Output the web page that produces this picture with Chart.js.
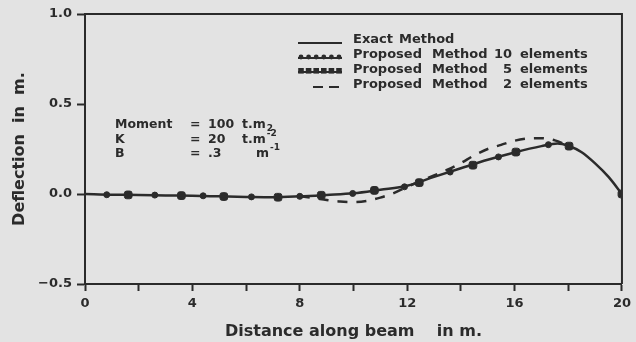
<!DOCTYPE html>
<html>
<head>
<meta charset="utf-8">
<script src="https://cdn.jsdelivr.net/npm/chart.js@4/dist/chart.umd.min.js"></script>
<style>
  html, body { margin: 0; padding: 0; background: #e3e3e3; }
  #wrap { width: 636px; height: 342px; }
</style>
</head>
<body>
<div id="wrap"><canvas id="chart-deflection"></canvas></div>
<script>
/* ── Data ─────────────────────────────────────────────────────────────── */
const exactX = [0, 1, 2, 3, 4, 5, 6, 7, 8, 9, 10, 11, 12, 13, 14, 15, 16, 17, 17.6, 18, 18.5, 19, 19.5, 20];
const exactY = [0, -0.004, -0.005, -0.008, -0.01, -0.013, -0.016, -0.018, -0.013, -0.005, 0.004, 0.024, 0.046,
                0.095, 0.143, 0.19, 0.231, 0.266, 0.281, 0.268, 0.232, 0.17, 0.095, 0];

const tenElemX = [0.81, 2.6, 4.4, 6.2, 8.0, 9.97, 11.9, 13.6, 15.4, 17.26];
const tenElemY = [-0.004, -0.006, -0.01, -0.016, -0.013, 0.003, 0.04, 0.122, 0.206, 0.274];

const fiveElemX = [1.61, 3.59, 5.17, 7.19, 8.8, 10.78, 12.45, 14.45, 16.05, 18.03, 20];
const fiveElemY = [-0.005, -0.009, -0.014, -0.018, -0.007, 0.02, 0.063, 0.16, 0.233, 0.266, 0];

// 2-element solution: only where it leaves the exact curve
const twoElemX = [8, 8.5, 9, 9.5, 10, 10.5, 11, 11.5, 12, 12.5, 13, 13.5, 14, 14.5, 15, 15.5,
                  16, 16.5, 17, 17.5, 18];
const twoElemY = [-0.013, -0.022, -0.033, -0.042, -0.045, -0.038, -0.02, 0.005, 0.04, 0.072,
                  0.103, 0.135, 0.172, 0.215, 0.25, 0.273, 0.296, 0.308, 0.31, 0.298, 0.268];

const legendLabels = [
    ['Exact', 'Method'],
    ['Proposed', 'Method', '10', 'elements'],
    ['Proposed', 'Method', '5', 'elements'],
    ['Proposed', 'Method', '2', 'elements'],
];
const paramNames = ['Moment', 'K', 'B'];
const paramValues = ['100', '20', '.3'];
const paramUnits = ['t.m', 't.m', 'm'];
const paramExps = ['2', '-2', '-1'];

const INK = '#2b2b2b';
const FONT = "'DejaVu Sans', sans-serif";

const toPoints = (xs, ys) => xs.map((x, i) => ({ x, y: ys[i] }));

/* ── Plugins ──────────────────────────────────────────────────────────── */
const paperBg = {
    id: 'paperBg',
    beforeDraw(chart) {
        const { ctx, width, height } = chart;
        ctx.save();
        ctx.fillStyle = '#e3e3e3';
        ctx.fillRect(0, 0, width, height);
        ctx.restore();
    },
};

const frameBox = {
    id: 'frameBox',
    afterDatasetsDraw(chart) {
        const { ctx, chartArea: a } = chart;
        ctx.save();
        ctx.strokeStyle = INK;
        ctx.lineWidth = 2;
        ctx.beginPath();
        ctx.moveTo(a.left, a.top);
        ctx.lineTo(a.right, a.top);
        ctx.lineTo(a.right, a.bottom);
        ctx.stroke();
        ctx.restore();
    },
};

// legend + parameter block, drawn by hand to keep the plotter look
const notes = {
    id: 'notes',
    afterDraw(chart) {
        const { ctx } = chart;
        ctx.save();
        ctx.fillStyle = INK;
        ctx.strokeStyle = INK;
        ctx.font = `bold 13px ${FONT}`;
        ctx.textBaseline = 'middle';

        // legend rows
        const rowsY = [40, 55, 70, 85];
        legendLabels.forEach((parts, i) => {
            const y = rowsY[i];
            ctx.textAlign = 'left';
            if (parts.length === 2) {
                ctx.fillText(parts[0], 353, y);
                ctx.fillText(parts[1], 353 + ctx.measureText(parts[0]).width + 6, y);
            } else {
                ctx.fillText(parts[0], 353, y);
                ctx.fillText(parts[1], 432, y);
                ctx.textAlign = 'right';
                ctx.fillText(parts[2], 512, y);
                ctx.textAlign = 'left';
                ctx.fillText(parts[3], 520, y);
            }
        });

        // legend samples
        ctx.lineWidth = 2;
        ctx.beginPath();
        ctx.moveTo(298, 43); ctx.lineTo(342, 43);
        ctx.moveTo(298, 58); ctx.lineTo(342, 58);
        ctx.moveTo(298, 72); ctx.lineTo(342, 72);
        ctx.stroke();
        for (let k = 0; k < 6; k++) {
            const x = 301 + k * 7.6;
            ctx.beginPath();
            ctx.arc(x, 57, 2.4, 0, Math.PI * 2);
            ctx.fill();
            ctx.fillRect(x - 2.8, 68, 5.6, 5.6);
        }
        ctx.setLineDash([10, 6]);
        ctx.beginPath();
        ctx.moveTo(313, 87); ctx.lineTo(343, 87);
        ctx.stroke();
        ctx.setLineDash([]);

        // parameter block
        const py = [125, 140, 154];
        paramNames.forEach((name, i) => {
            const y = py[i];
            ctx.font = `bold 12.5px ${FONT}`;
            ctx.fillText(name, 115, y);
            ctx.fillText('=', 190, y);
            ctx.fillText(paramValues[i], 208, y);
            const ux = i === 2 ? 256 : 242;
            ctx.fillText(paramUnits[i], ux, y);
            const uw = ctx.measureText(paramUnits[i]).width;
            ctx.font = `bold 9px ${FONT}`;
            const ey = i === 0 ? y + 4 : y - 6;
            ctx.fillText(paramExps[i], ux + uw + 1, ey);
        });
        ctx.restore();
    },
};

/* ── Chart ────────────────────────────────────────────────────────────── */
new Chart(document.getElementById('chart-deflection'), {
    type: 'scatter',
    data: {
        datasets: [
            {
                label: 'Exact Method',
                data: toPoints(exactX, exactY),
                showLine: true,
                borderColor: INK,
                borderWidth: 2.5,
                pointRadius: 0,
                cubicInterpolationMode: 'monotone',
            },
            {
                label: 'Proposed Method 2 elements',
                data: toPoints(twoElemX, twoElemY),
                showLine: true,
                borderColor: INK,
                borderWidth: 2.5,
                borderDash: [10, 9],
                pointRadius: 0,
                cubicInterpolationMode: 'monotone',
            },
            {
                label: 'Proposed Method 10 elements',
                data: toPoints(tenElemX, tenElemY),
                showLine: false,
                pointStyle: 'circle',
                pointRadius: 3,
                backgroundColor: INK,
                borderColor: INK,
            },
            {
                label: 'Proposed Method 5 elements',
                data: toPoints(fiveElemX, fiveElemY),
                showLine: false,
                pointStyle: 'rectRounded',
                pointRadius: 4.5,
                backgroundColor: INK,
                borderColor: INK,
            },
        ],
    },
    options: {
        responsive: true,
        maintainAspectRatio: false,
        animation: false,
        layout: { padding: { top: 14, right: 14, left: 0, bottom: 0 } },
        scales: {
            x: {
                type: 'linear',
                min: 0,
                max: 20,
                afterFit: s => { s.height = 58; },
                ticks: {
                    stepSize: 2,
                    color: INK,
                    padding: 5,
                    maxRotation: 0,
                    autoSkip: false,
                    font: { family: FONT, size: 13, weight: 'bold' },
                    callback: v => (v % 4 === 0 ? String(v) : ''),
                },
                grid: { drawOnChartArea: false, drawTicks: true, tickLength: 7, tickColor: INK, tickWidth: 2 },
                border: { color: INK, width: 2 },
                title: {
                    display: true,
                    text: 'Distance along beam    in m.',
                    color: INK,
                    padding: { top: 1, bottom: 1 },
                    font: { family: FONT, size: 16, weight: 'bold' },
                },
            },
            y: {
                min: -0.5,
                max: 1.0,
                afterFit: s => { s.width = 85; },
                ticks: {
                    stepSize: 0.5,
                    color: INK,
                    padding: 5,
                    font: { family: FONT, size: 13, weight: 'bold' },
                    callback: v => (v < 0 ? '\u2212' + Math.abs(v).toFixed(1) : v.toFixed(1)),
                },
                grid: { drawOnChartArea: false, drawTicks: true, tickLength: 8, tickColor: INK, tickWidth: 2 },
                border: { color: INK, width: 2 },
                title: {
                    display: true,
                    text: 'Deflection  in  m.',
                    color: INK,
                    padding: { top: 10, bottom: 4 },
                    font: { family: FONT, size: 16, weight: 'bold' },
                },
            },
        },
        plugins: {
            legend: { display: false },
            tooltip: { enabled: false },
        },
    },
    plugins: [paperBg, frameBox, notes],
});
</script>
</body>
</html>
